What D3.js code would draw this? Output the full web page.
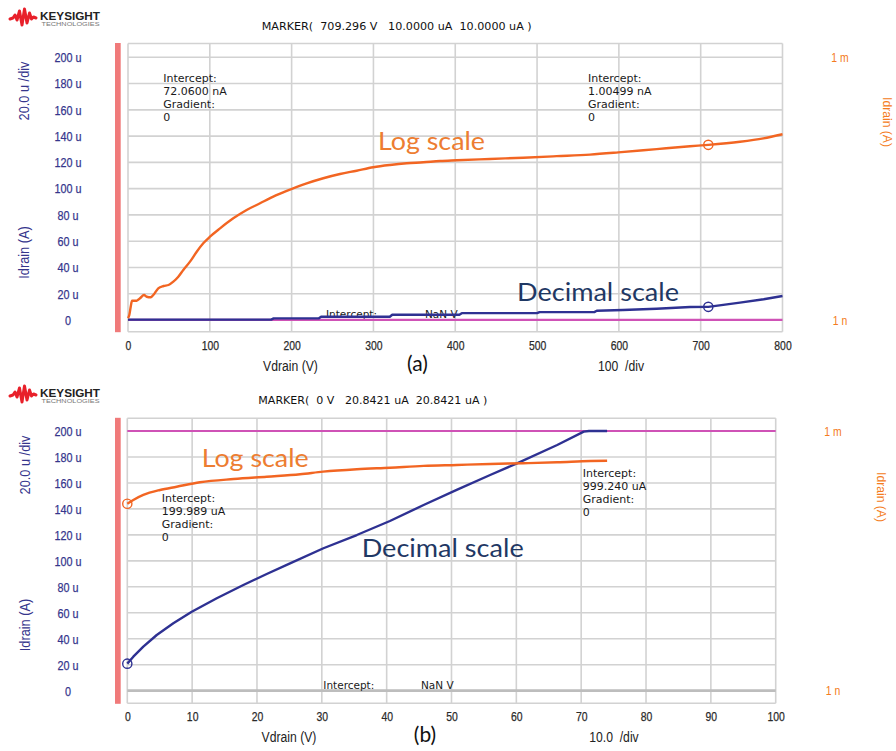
<!DOCTYPE html>
<html><head><meta charset="utf-8">
<script src="https://cdn.jsdelivr.net/npm/d3@7"></script>
<style>
html,body{margin:0;padding:0;background:#fff;}
svg{display:block;}
text{white-space:pre;}
</style></head><body>
<svg id="chart" width="896" height="751"></svg>
<script>
// ---------------- data ----------------
const yTicksUA = [0, 20, 40, 60, 80, 100, 120, 140, 160, 180, 200];
const yTickLabels = ["0", "20 u", "40 u", "60 u", "80 u", "100 u", "120 u", "140 u", "160 u", "180 u", "200 u"];
const logTicks = [1e-9, 1e-3];
const logTickLabels = ["1 n", "1 m"];
const xTicksA = [0, 100, 200, 300, 400, 500, 600, 700, 800];
const xTicksB = [0, 10, 20, 30, 40, 50, 60, 70, 80, 90, 100];

// (a) Idrain on log axis (A) vs Vdrain (V)
const vLogA = [0, 1.6, 3.3, 4.9, 10.6, 14.7, 19.6, 22.9, 27.8, 30.9, 37, 43.4, 49.5, 55.4, 61.5, 67.6, 75.8, 84, 92, 100.2, 112.5, 128.7, 145, 161.4, 177.6, 194, 218.4, 238.7, 259.1, 279.5, 299.8, 320.3, 340.7, 361, 381.4, 401.8, 442.5, 483.2, 524, 564.7, 599.3, 646.2, 686.9, 709.3, 748.1, 776.6, 800];
const iLogA = [1.1e-9, 1.3e-9, 2.0e-9, 2.76e-9, 2.76e-9, 3.13e-9, 3.72e-9, 3.4e-9, 3.3e-9, 3.72e-9, 5.3e-9, 5.98e-9, 6.3e-9, 7.5e-9, 9.75e-9, 1.39e-8, 2.15e-8, 3.63e-8, 5.65e-8, 8.0e-8, 1.24e-7, 2.1e-7, 3.26e-7, 4.63e-7, 6.55e-7, 8.85e-7, 1.32e-6, 1.73e-6, 2.16e-6, 2.57e-6, 3.08e-6, 3.47e-6, 3.79e-6, 4.0e-6, 4.29e-6, 4.45e-6, 4.76e-6, 5.09e-6, 5.52e-6, 6.0e-6, 6.72e-6, 8.0e-6, 9.3e-6, 1.0e-5, 1.18e-5, 1.41e-5, 1.75e-5];
// (a) Idrain on linear axis (uA)
const vLinA = [0, 175, 178, 233, 236, 320, 323, 405, 408, 500, 503, 570, 573, 605, 646, 687, 709.3, 748, 777, 800];
const iLinA = [0.3, 0.3, 1.2, 1.2, 2.5, 2.5, 4.0, 4.0, 5.2, 5.2, 6.0, 6.0, 7.0, 7.6, 8.6, 9.9, 10.0, 13.2, 15.8, 18.3];

// (b) Idrain on log axis (A)
const vLogB = [0, 0.93, 2.47, 5.05, 7.62, 11.2, 16.4, 21.5, 26.65, 30.2, 35.4, 40.5, 45.7, 50.8, 55.96, 61.1, 66.3, 71.4, 74.0];
const iLogB = [2.08421e-5, 2.55e-5, 3.33e-5, 4.34e-5, 5.16e-5, 6.53e-5, 7.78e-5, 8.8e-5, 1.0e-4, 1.15e-4, 1.31e-4, 1.42e-4, 1.56e-4, 1.64e-4, 1.73e-4, 1.80e-4, 1.89e-4, 2.03e-4, 2.06e-4];
// (b) Idrain on linear axis (uA)
const vLinB = [0, 0.93, 2.47, 4.54, 7.1, 9.94, 13.8, 17.9, 21.5, 25.1, 30.25, 35.4, 40.5, 45.7, 50.8, 55.96, 60.1, 66.3, 70.4, 71.2, 74.0];
const iLinB = [20.8421, 26.2, 33.9, 42.9, 51.9, 60.8, 71.2, 81.4, 89.9, 98.1, 109.7, 119.9, 130.7, 143.0, 154.6, 166.1, 175.1, 189.2, 199.5, 200, 200];

// markers (V, uA) and gradient-line intercepts (A)
const markerV = [709.296, 0];
const markerUA = [10.0, 20.8421];
const interceptA = [1.00499e-9, 999.24e-6];

const markerTexts = ["MARKER(  709.296 V   10.0000 uA  10.0000 uA )", "MARKER(  0 V   20.8421 uA  20.8421 uA )"];
const leftNotes = [["Intercept:", "72.0600 nA", "Gradient:", "0"], ["Intercept:", "199.989 uA", "Gradient:", "0"]];
const rightNotes = [["Intercept:", "1.00499 nA", "Gradient:", "0"], ["Intercept:", "999.240 uA", "Gradient:", "0"]];
const divTexts = ["100  /div", "10.0  /div"];
const panelTags = ["(a)", "(b)"];

// ---------------- layout / style ----------------
const C_ORANGE = "#f26522", C_NAVY = "#2e3192", C_MAG = "#cf52b6";
const C_GRID = "#d2d2d2", C_AXIS = "#35358c", C_RLAB = "#f47b20";
const F_TICK = "'Liberation Sans', Arial, sans-serif";
const F_NOTE = "'DejaVu Sans', Verdana, sans-serif";
const F_CALL = "Lato, 'Open Sans', sans-serif";

const layouts = [
  {left: 128, right: 782.5, top: 43.5, bottom: 331.7, yZero: 320, yTop: 57.3, xMax: 800, xTicks: xTicksA,
   logo: 0, marker: [261.7, 29.5], markerW: 270, lnote: [163.3, 82], rnote: [588, 82], nan: [326, 425, 317.5],
   callLog: [378, 150], callDec: [517, 301], yLabX: 68, rLabX: 840, ltitleX: 24, lt1: 91, lt2: 252.5,
   rtitle: [888, 122], xt: 290.5, tag: 417.4, dv: 621, tb: 371, zeroThick: false},
  {left: 127.3, right: 775.7, top: 418.3, bottom: 703.3, yZero: 690.7, yTop: 431, xMax: 100, xTicks: xTicksB,
   logo: 377, marker: [258.3, 404.2], markerW: 229, lnote: [161.7, 502], rnote: [582.7, 477], nan: [323.3, 421, 688.5],
   callLog: [201.7, 467], callDec: [361.7, 556.5], yLabX: 68, rLabX: 833, ltitleX: 25, lt1: 465, lt2: 625,
   rtitle: [882, 497], xt: 289, tag: 425, dv: 614, tb: 741.5, zeroThick: true}
];

const svg = d3.select("#chart");
svg.append("rect").attr("width", 896).attr("height", 751).attr("fill", "#fff");

function condense(sel, k) {
  sel.each(function () {
    const L = this.getComputedTextLength();
    this.setAttribute("textLength", (L * k).toFixed(2));
    this.setAttribute("lengthAdjust", "spacingAndGlyphs");
  });
}
function fitWidth(sel, w) {
  sel.attr("textLength", w).attr("lengthAdjust", "spacingAndGlyphs");
}
function heavy(sel, c) {
  sel.attr("stroke", c).attr("stroke-width", 0.25);
}

function drawLogo(g, oy) {
  const lg = g.append("g").attr("transform", `translate(0,${oy})`);
  lg.append("path")
    .attr("d", "M10,19 L13,18 L15,15 L17,20 L19.5,11 L22,25 L24.5,9 L27,23 L29.5,13 L31.5,19 L33.5,17 L36,18")
    .attr("fill", "none").attr("stroke", "#e8202a").attr("stroke-width", 3)
    .attr("stroke-linejoin", "round").attr("stroke-linecap", "round");
  lg.append("text").attr("x", 40).attr("y", 20).text("KEYSIGHT")
    .attr("font-family", "'Liberation Sans', Arial, sans-serif").attr("font-weight", "bold")
    .attr("font-size", 11.5).attr("fill", "#222").call(fitWidth, 60);
  lg.append("text").attr("x", 41.5).attr("y", 26.3).text("TECHNOLOGIES")
    .attr("font-family", "'Liberation Sans', Arial, sans-serif")
    .attr("font-size", 5.5).attr("fill", "#777").call(fitWidth, 58);
}

function drawPanel(idx, vLog, iLog, vLin, iLin) {
  const p = layouts[idx];
  const g = svg.append("g");
  const x = d3.scaleLinear().domain([0, p.xMax]).range([p.left, p.right]);
  const yLin = d3.scaleLinear().domain([0, 200]).range([p.yZero, p.yTop]);
  const yLog = d3.scaleLog().domain([1e-9, 1e-3]).range([p.yZero, p.yTop]);

  drawLogo(g, p.logo);

  // marker header
  g.append("text").attr("x", p.marker[0]).attr("y", p.marker[1]).text(markerTexts[idx])
    .attr("font-family", F_NOTE).attr("font-size", 10.8).attr("fill", "#111").call(fitWidth, p.markerW);

  // red bar
  g.append("rect").attr("x", 115).attr("y", p.top - 0.5).attr("width", 5.7).attr("height", p.bottom - p.top + 1)
    .attr("fill", "#f07a7a");

  // grid
  const grid = g.append("g").attr("stroke", C_GRID).attr("stroke-width", 1.6);
  grid.selectAll("line.h").data(yTicksUA).join("line").attr("class", "h")
    .attr("x1", p.left).attr("x2", p.right).attr("y1", d => yLin(d)).attr("y2", d => yLin(d));
  grid.selectAll("line.b").data([p.top, p.bottom]).join("line").attr("class", "b")
    .attr("x1", p.left).attr("x2", p.right).attr("y1", d => d).attr("y2", d => d);
  grid.selectAll("line.v").data(p.xTicks).join("line").attr("class", "v")
    .attr("x1", d => x(d)).attr("x2", d => x(d)).attr("y1", p.top).attr("y2", p.bottom);
  if (p.zeroThick) {
    g.append("line").attr("x1", p.left).attr("x2", p.right).attr("y1", yLin(0)).attr("y2", yLin(0))
      .attr("stroke", "#bdbdbd").attr("stroke-width", 2.8);
  }

  // notes
  const note = (x0, y0, lines) => {
    g.append("g").selectAll("text").data(lines).join("text")
      .attr("x", x0).attr("y", (d, i) => y0 + i * 12.9).text(d => d)
      .attr("font-family", F_NOTE).attr("font-size", 11).attr("fill", "#1a1a1a");
  };
  note(p.lnote[0], p.lnote[1], leftNotes[idx]);
  note(p.rnote[0], p.rnote[1], rightNotes[idx]);
  g.append("text").attr("x", p.nan[0]).attr("y", p.nan[2]).text("Intercept:")
    .attr("font-family", F_NOTE).attr("font-size", 10.5).attr("fill", "#1a1a1a");
  g.append("text").attr("x", p.nan[1]).attr("y", p.nan[2]).text("NaN V")
    .attr("font-family", F_NOTE).attr("font-size", 10.5).attr("fill", "#1a1a1a");

  // gradient / intercept line (log axis)
  g.append("line").attr("x1", x(0)).attr("x2", x(p.xMax))
    .attr("y1", yLog(interceptA[idx])).attr("y2", yLog(interceptA[idx]))
    .attr("stroke", C_MAG).attr("stroke-width", idx === 0 ? 2.4 : 1.8);

  // series
  const lineLin = d3.line().x(d => x(d[0])).y(d => yLin(d[1]));
  const lineLog = d3.line().x(d => x(d[0])).y(d => yLog(d[1])).curve(d3.curveMonotoneX);
  g.append("path").datum(d3.zip(vLin, iLin)).attr("d", lineLin)
    .attr("fill", "none").attr("stroke", C_NAVY).attr("stroke-width", 2.4).attr("stroke-linejoin", "round");
  g.append("path").datum(d3.zip(vLog, iLog)).attr("d", lineLog)
    .attr("fill", "none").attr("stroke", C_ORANGE).attr("stroke-width", 2.4).attr("stroke-linejoin", "round");

  // markers
  g.append("circle").attr("cx", x(markerV[idx])).attr("cy", yLog(markerUA[idx] * 1e-6)).attr("r", 4.6)
    .attr("fill", "none").attr("stroke", C_ORANGE).attr("stroke-width", 1.4);
  g.append("circle").attr("cx", x(markerV[idx])).attr("cy", yLin(markerUA[idx])).attr("r", 4.6)
    .attr("fill", "none").attr("stroke", C_NAVY).attr("stroke-width", 1.4);

  // left axis labels
  const ya = g.append("g").attr("transform", `translate(${p.yLabX},0)`)
    .call(d3.axisLeft(yLin).tickValues(yTicksUA).tickFormat((d, i) => yTickLabels[i]).tickSize(0).tickPadding(0));
  ya.select(".domain").remove();
  ya.attr("font-family", F_TICK).attr("font-size", 13.5);
  ya.selectAll("text").attr("x", 0).attr("text-anchor", "middle").attr("fill", C_AXIS)
    .call(heavy, C_AXIS).call(condense, 0.8);

  // right (log) axis labels
  const ra = g.append("g").attr("transform", `translate(${p.rLabX},0)`)
    .call(d3.axisRight(yLog).tickValues(logTicks).tickFormat((d, i) => logTickLabels[i]).tickSize(0).tickPadding(0));
  ra.select(".domain").remove();
  ra.attr("font-family", F_TICK).attr("font-size", 13);
  ra.selectAll("text").attr("x", 0).attr("text-anchor", "middle").attr("fill", C_RLAB).call(condense, 0.8);

  // bottom axis labels
  const xa = g.append("g").attr("transform", `translate(0,${p.bottom})`)
    .call(d3.axisBottom(x).tickValues(p.xTicks).tickSize(0).tickPadding(8.6));
  xa.select(".domain").remove();
  xa.attr("font-family", F_TICK).attr("font-size", 13);
  xa.selectAll("text").attr("fill", "#2a2a2a").call(heavy, "#2a2a2a").call(condense, 0.8);

  // axis titles
  const lt = (cy, txt) => g.append("text").attr("transform", `translate(${p.ltitleX},${cy}) rotate(-90)`)
    .attr("text-anchor", "middle").attr("dy", "0.35em").text(txt)
    .attr("font-family", F_TICK).attr("font-size", 14.5).attr("fill", C_AXIS).call(condense, 0.88);
  lt(p.lt1, "20.0 u /div");
  lt(p.lt2, "Idrain (A)");
  g.append("text").attr("transform", `translate(${p.rtitle[0]},${p.rtitle[1]}) rotate(90)`)
    .attr("text-anchor", "middle").attr("dy", "0.35em").text("Idrain (A)")
    .attr("font-family", F_TICK).attr("font-size", 13.5).attr("fill", C_RLAB).call(condense, 0.9);

  g.append("text").attr("x", p.xt).attr("y", p.tb).attr("text-anchor", "middle").text("Vdrain (V)")
    .attr("font-family", F_TICK).attr("font-size", 14).attr("fill", "#222").call(condense, 0.87);
  g.append("text").attr("x", p.dv).attr("y", p.tb).attr("text-anchor", "middle").text(divTexts[idx])
    .attr("font-family", F_TICK).attr("font-size", 14).attr("fill", "#222").call(condense, 0.87);
  g.append("text").attr("x", p.tag).attr("y", p.tb).attr("text-anchor", "middle").text(panelTags[idx])
    .attr("font-family", F_CALL).attr("font-size", 21).attr("fill", "#111");

  // call-outs
  g.append("text").attr("x", p.callLog[0]).attr("y", p.callLog[1]).text("Log scale")
    .attr("font-family", F_CALL).attr("font-size", 25).attr("fill", "#ed7d31").call(fitWidth, 107);
  g.append("text").attr("x", p.callDec[0]).attr("y", p.callDec[1]).text("Decimal scale")
    .attr("font-family", F_CALL).attr("font-size", 25).attr("fill", "#1f3864").call(fitWidth, 162);
}

drawPanel(0, vLogA, iLogA, vLinA, iLinA);
drawPanel(1, vLogB, iLogB, vLinB, iLinB);
</script>
</body></html>
